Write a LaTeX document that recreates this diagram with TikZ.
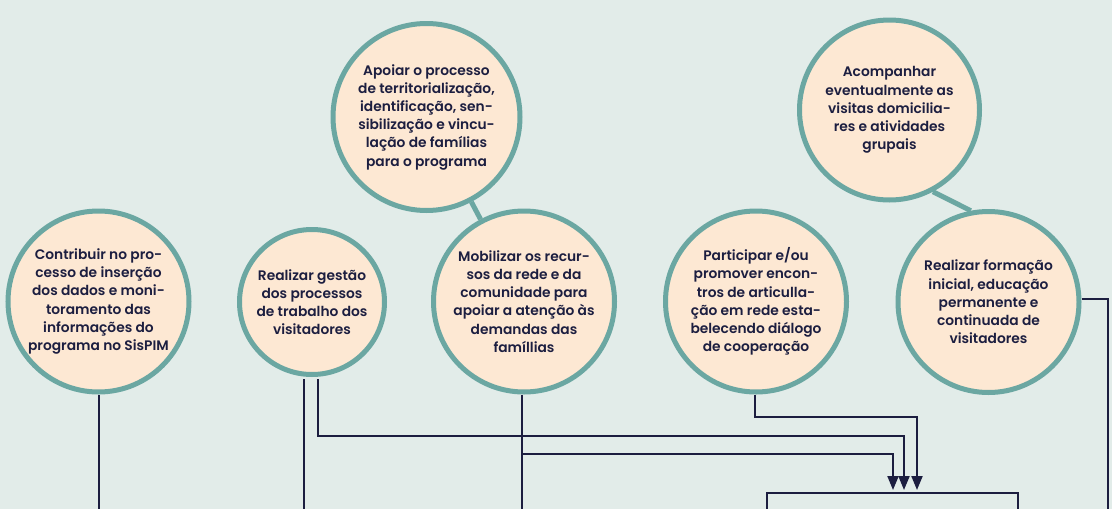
\documentclass[tikz,border=0pt]{standalone}
\usepackage{fontspec}
\setmainfont{Poppins}[UprightFont=* SemiBold]
\usetikzlibrary{arrows.meta}
\definecolor{bg}{HTML}{E2ECE9}
\definecolor{peach}{HTML}{FDE8D3}
\definecolor{tealb}{HTML}{6BA7A2}
\definecolor{navy}{HTML}{1C1E40}
\tikzset{
  bubble/.style={circle, draw=tealb, fill=peach, line width=5pt, inner sep=0pt,
    align=center, text=navy, font=\fontsize{13.8}{18.2}\selectfont},
  tealline/.style={draw=tealb, line width=5pt},
  navyline/.style={draw=navy, line width=2pt},
  arr/.style={navyline, -{Triangle[length=14pt,width=11pt]}},
}
\begin{document}
\begin{tikzpicture}[x=1pt,y=-1pt]
\fill[bg] (0,0) rectangle (1112,509);
\useasboundingbox (0,0) rectangle (1112,509);

\node[bubble, minimum size=181pt] (c1) at (98.5,301.5)
  {Contribuir no pro-\\cesso de inserção\\dos dados e moni-\\toramento das\\informações do\\programa no SisPIM};
\node[bubble, minimum size=145pt] (c2) at (312,302)
  {Realizar gestão\\dos processos\\de trabalho dos\\visitadores};
\node[bubble, minimum size=187pt] (c3) at (426.5,117)
  {Apoiar o processo\\de territorialização,\\identificação, sen-\\sibilização e vincu-\\lação de famílias\\para o programa};
\node[bubble, minimum size=181pt] (c4) at (524,301.5)
  {Mobilizar os recur-\\sos da rede e da\\comunidade para\\apoiar a atenção às\\demandas das\\famíllias};
\node[bubble, minimum size=181pt] (c5) at (756,301.5)
  {Participar e/ou\\promover encon-\\tros de articulla-\\ção em rede esta-\\belecendo diálogo\\de cooperação};
\node[bubble, minimum size=180pt] (c6) at (889.5,110)
  {Acompanhar\\eventualmente as\\visitas domicilia-\\res e atividades\\grupais};
\node[bubble, minimum size=181pt] (c7) at (988.5,302)
  {Realizar formação\\inicial, educação\\permanente e\\continuada de\\visitadores};

% teal links
\draw[tealline] (c3) -- (c4);
\draw[tealline] (c6.-62) -- (c7.101);

% free ends and targets
\coordinate (e1) at (98.5,509);
\coordinate (e2) at (304,509);
\coordinate (e4) at (522,509);
\coordinate (e7) at (1108,509);
\coordinate (b4) at (522,454);
\coordinate (a1) at (893,490);
\coordinate (a2) at (904,490);
\coordinate (a3) at (917,490);
\coordinate (bl) at (767,509);
\coordinate (bt) at (1018,493);
\coordinate (br) at (1018,509);

% navy connectors
\draw[navyline] (c1.south) -- (e1);
\draw[navyline] ([xshift=-8pt,yshift=-2pt]c2.south) -- (e2);
\draw[arr] ([xshift=6pt,yshift=-2pt]c2.south) -- ++(0,57) -| (a2);
\draw[navyline] ([xshift=-2pt]c4.south) -- (e4);
\draw[arr] (b4) -| (a1);
\draw[arr] ([xshift=-1pt]c5.south) -- ++(0,22) -| (a3);
\draw[navyline] ([yshift=3pt]c7.east) -| (e7);
\draw[navyline] (bl) |- (bt) -- (br);
\end{tikzpicture}
\end{document}
